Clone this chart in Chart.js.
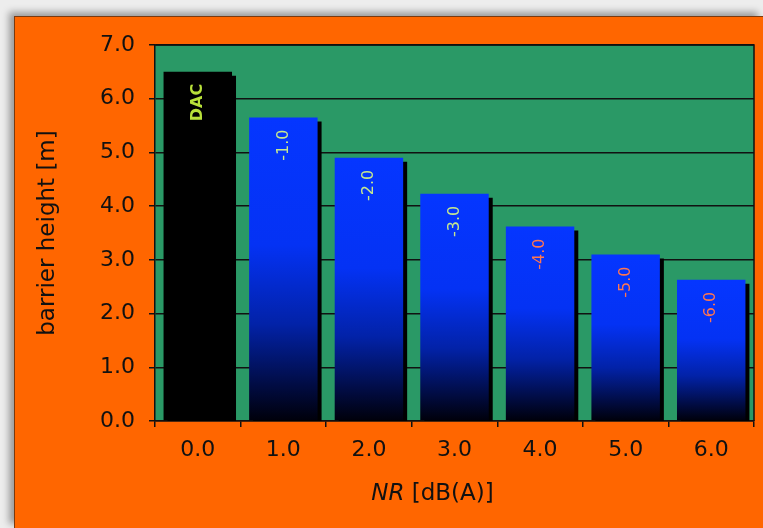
<!doctype html>
<html lang="en">
  <head>
    <meta charset="utf-8">
    <title>Barrier height vs NR</title>
    <script src="https://cdn.jsdelivr.net/npm/chart.js"></script>
    <style>
      body{
        margin: 0;
        background: #ededed;
        width: 763px;
        height: 528px;
        overflow: hidden;
      }
      #panel{
        position: absolute;
        left: 14px;
        top: 16px;
        width: 749px;
        height: 512px;
        box-sizing: border-box;
        background: #ff6600;
        border-left: 1px solid #7a3a10;
        border-top: 1px solid #7a3a10;
        box-shadow: -5px -4px 7px rgba(0,0,0,0.35);
      }
    </style>
  </head>
  <body>
    <div id="panel">
      <canvas id="myChart" width="748" height="511"></canvas>
    </div>
    <script>
      // data
      const nrLabels = ['0.0', '1.0', '2.0', '3.0', '4.0', '5.0', '6.0'];
      const heights = [6.5, 5.65, 4.9, 4.23, 3.62, 3.1, 2.63];
      const barTexts = ['DAC', '-1.0', '-2.0', '-3.0', '-4.0', '-5.0', '-6.0'];
      const textColors = ['#b8e03a', '#c6e88e', '#c6e88e', '#c6e88e', '#ff7650', '#ff7650', '#ff7650'];

      const font = "'DejaVu Sans', Verdana, sans-serif";

      // green plot background + frame
      const plotBg = {
        id: 'plotBg',
        beforeDraw(chart) {
          const {ctx, chartArea: a} = chart;
          ctx.save();
          ctx.fillStyle = '#2a9966';
          ctx.fillRect(a.left, a.top, a.right - a.left, a.bottom - a.top);
          ctx.restore();
        },
        afterDraw(chart) {
          const {ctx, chartArea: a} = chart;
          ctx.save();
          ctx.strokeStyle = '#111';
          ctx.lineWidth = 1.5;
          ctx.beginPath();
          ctx.moveTo(a.left, a.top);
          ctx.lineTo(a.right, a.top);
          ctx.lineTo(a.right, a.bottom);
          ctx.stroke();
          ctx.restore();
        }
      };

      // hard black drop shadow behind the bars
      const barShadow = {
        id: 'barShadow',
        beforeDatasetsDraw(chart) {
          const ctx = chart.ctx;
          ctx.save();
          ctx.shadowColor = '#000';
          ctx.shadowOffsetX = 4;
          ctx.shadowOffsetY = 4;
          ctx.shadowBlur = 0;
        },
        afterDatasetsDraw(chart) {
          chart.ctx.restore();
        }
      };

      // rotated labels inside the bars + x title with italic NR
      const barText = {
        id: 'barText',
        afterDatasetsDraw(chart) {
          const ctx = chart.ctx;
          const meta = chart.getDatasetMeta(0);
          meta.data.forEach((bar, i) => {
            ctx.save();
            ctx.translate(bar.x, bar.y + 12);
            ctx.rotate(-Math.PI / 2);
            ctx.textAlign = 'right';
            ctx.textBaseline = 'middle';
            ctx.fillStyle = textColors[i];
            ctx.font = (i === 0 ? 'bold 16px ' : '16px ') + font;
            ctx.fillText(barTexts[i], 0, 0);
            ctx.restore();
          });

          const a = chart.chartArea;
          ctx.save();
          ctx.fillStyle = '#111';
          ctx.textBaseline = 'middle';
          const italic = 'italic 23px ' + font;
          const normal = '23px ' + font;
          ctx.font = italic;
          const w1 = ctx.measureText('NR').width;
          ctx.font = normal;
          const w2 = ctx.measureText(' [dB(A)]').width;
          const x0 = (a.left + a.right) / 2 - 22 - (w1 + w2) / 2;
          const y0 = a.bottom + 73;
          ctx.font = italic;
          ctx.fillText('NR', x0, y0);
          ctx.font = normal;
          ctx.fillText(' [dB(A)]', x0 + w1, y0);
          ctx.restore();
        }
      };

      function barFill(c) {
        if (c.dataIndex === 0) return '#000';
        const chart = c.chart;
        if (!chart.chartArea) return '#0033ff';
        const y = chart.scales.y;
        const top = y.getPixelForValue(heights[c.dataIndex]);
        const bottom = y.getPixelForValue(0);
        const g = chart.ctx.createLinearGradient(0, top, 0, bottom);
        g.addColorStop(0, '#0536ff');
        g.addColorStop(0.42, '#0432f4');
        g.addColorStop(0.68, '#0222a8');
        g.addColorStop(0.88, '#010c44');
        g.addColorStop(1, '#00000a');
        return g;
      }

      const ctx = document.getElementById('myChart').getContext('2d');
      new Chart(ctx, {
        type: 'bar',
        data: {
          labels: nrLabels,
          datasets: [{
            data: heights,
            backgroundColor: barFill,
            borderWidth: 0,
            categoryPercentage: 1,
            barPercentage: 0.8
          }]
        },
        options: {
          responsive: false,
          animation: false,
          events: [],
          layout: { padding: { top: 28, right: 9, left: 0, bottom: 0 } },
          plugins: {
            legend: { display: false },
            tooltip: { enabled: false }
          },
          scales: {
            x: {
              afterFit: s => { s.height = 107; },
              grid: { drawOnChartArea: false, drawTicks: true, tickLength: 6, color: '#111', lineWidth: 1.5 },
              border: { color: '#111', width: 1.5 },
              ticks: { color: '#111', font: { family: font, size: 22 }, padding: 10 }
            },
            y: {
              min: 0,
              max: 7,
              afterFit: s => { s.width = 140; },
              grid: { color: '#111', lineWidth: 1.5, tickLength: 6 },
              border: { color: '#111', width: 1.5 },
              ticks: {
                stepSize: 1,
                color: '#111',
                padding: 14,
                font: { family: font, size: 22 },
                callback: v => v.toFixed(1)
              },
              title: {
                display: true,
                text: 'barrier height [m]',
                color: '#111',
                font: { family: font, size: 23 },
                padding: { top: 19, bottom: 0 }
              }
            }
          }
        },
        plugins: [plotBg, barShadow, barText]
      });
    </script>
  </body>
</html>
